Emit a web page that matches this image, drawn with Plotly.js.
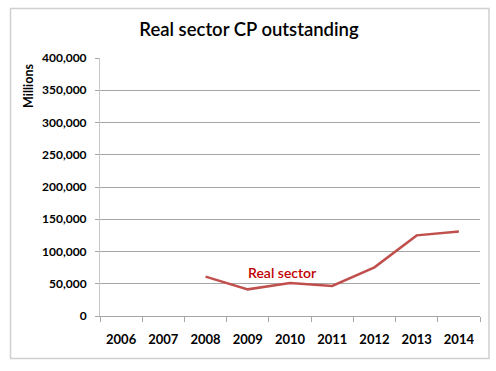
<!DOCTYPE html>
<html><head><meta charset="utf-8">
<script src="https://cdn.plot.ly/plotly-3.0.1.min.js"></script>
<style>html,body{margin:0;padding:0;background:#fff}#chart{width:496px;height:371px}</style>
</head><body><div id="chart"></div>
<script>
const years = ['2006','2007','2008','2009','2010','2011','2012','2013','2014'];
const realSector = [null, null, 61000, 41300, 51000, 46500, 75500, 125000, 131000];
const yTickVals = [0,50000,100000,150000,200000,250000,300000,350000,400000];
const yTickText = ['0','50,000','100,000','150,000','200,000','250,000','300,000','350,000','400,000'];

const font = 'Lato, "Open Sans", sans-serif';
const trace = {
  x: years, y: realSector, type: 'scatter', mode: 'lines',
  line: {color: '#c0504d', width: 2.5}, connectgaps: false, hoverinfo: 'skip'
};
const W = 496, H = 371, L = 100, R = 16, T = 58, B = 55;
const pw = W - L - R, ph = H - T - B;
const px = v => (v - L) / pw, py = v => (H - B - v) / ph;
const layout = {
  width: W, height: H,
  margin: {l: L, r: R, t: T, b: B, pad: 0},
  paper_bgcolor: '#fff', plot_bgcolor: '#fff',
  showlegend: false,
  title: {text: 'Real sector CP outstanding', font: {family: font, size: 18.5, color: '#000', weight: 600},
          x: 0.502, xanchor: 'center', y: 1 - 30/H, yanchor: 'middle'},
  xaxis: {
    type: 'category', range: [-0.5, 8.5], tickson: 'boundaries', tickangle: 0,
    ticks: 'outside', ticklen: 5, tickcolor: '#a6a6a6', tickwidth: 1,
    showline: true, linecolor: '#a6a6a6', linewidth: 1, showgrid: false,
    tickfont: {family: font, size: 13, color: '#000', weight: 'bold'},
    ticklabelstandoff: 11, fixedrange: true
  },
  yaxis: {
    range: [0, 400000], tickvals: yTickVals, ticktext: yTickText,
    ticks: 'outside', ticklen: 4, tickcolor: '#a6a6a6',
    showline: true, linecolor: '#c8c8c8', linewidth: 1,
    showgrid: true, gridcolor: '#a6a6a6', gridwidth: 1, zeroline: false,
    tickfont: {family: font, size: 12, color: '#000', weight: 'bold'},
    ticklabelstandoff: 6, fixedrange: true
  },
  annotations: [
    {text: 'Real sector', xref: 'paper', yref: 'paper', x: px(282), y: py(272),
     xanchor: 'center', yanchor: 'middle', showarrow: false,
     font: {family: font, size: 14, color: '#c00000', weight: 600}},
    {text: '<b>Millions</b>', xref: 'paper', yref: 'paper', x: px(28), y: py(86),
     xanchor: 'center', yanchor: 'middle', showarrow: false, textangle: -90,
     font: {family: font, size: 12.5, color: '#000'}}
  ],
  shapes: [
    {type: 'rect', xref: 'paper', yref: 'paper', x0: px(10.5), x1: px(489), y0: py(358.5), y1: py(8.5),
     line: {color: '#d0d0d0', width: 1.5}, fillcolor: 'rgba(0,0,0,0)', layer: 'below'}
  ]
};
Plotly.newPlot('chart', [trace], layout, {staticPlot: true, displayModeBar: false});
</script></body></html>
